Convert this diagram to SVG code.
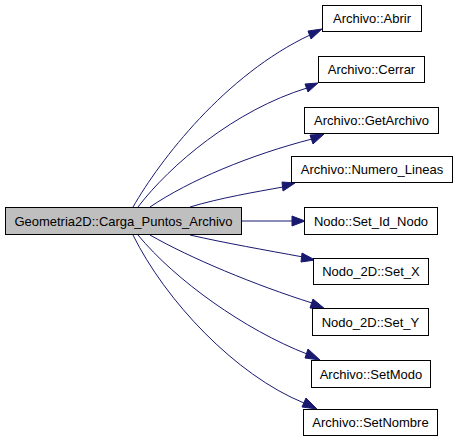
<svg xmlns="http://www.w3.org/2000/svg" width="459" height="443" viewBox="0 0 459 443">
<style>
.n rect{fill:#ffffff;stroke:#000000;stroke-width:1}
.m rect{fill:#bfbfbf;stroke:#000000;stroke-width:1}
text{font-family:"Liberation Sans",Arial,sans-serif;font-size:13px;fill:#000000;text-anchor:middle}
.e path{fill:none;stroke:#191970;stroke-width:1}
.e polygon{fill:#191970;stroke:#191970;stroke-width:1}
</style>
<rect width="459" height="443" fill="#ffffff"/>
<g class="e" id="edges">
<path d="M133,207 C160,160 225,75 310,35"/>
<polygon points="308,31 322,29 311,39"/>
<path d="M138,207 C170,165 235,110 307,88"/>
<polygon points="305,84 318,83 308,92"/>
<path d="M150,207 C190,180 250,155 312,139"/>
<polygon points="310,135 324,134 313,144"/>
<path d="M190,207 C220,198 255,192 283,187"/>
<polygon points="282,182 295,183 283,191"/>
<path d="M242,221 L292,221"/>
<polygon points="292,216 305,221 292,226"/>
<path d="M190,235 C225,243 265,250 303,257"/>
<polygon points="302,253 315,260 301,262"/>
<path d="M150,235 C190,258 255,285 312,303"/>
<polygon points="313,299 325,309 310,308"/>
<path d="M138,235 C175,280 245,330 307,354"/>
<polygon points="308,349 320,360 305,358"/>
<path d="M133,235 C165,300 235,375 304,403"/>
<polygon points="306,398 317,409 302,407"/>
</g>
<g class="m" id="node-main"><rect x="5.5" y="207.5" width="236" height="27"/><text x="123.5" y="226">Geometria2D::Carga_Puntos_Archivo</text></g>
<g class="n" id="node-abrir"><rect x="322.5" y="5.5" width="99" height="26"/><text x="372" y="23">Archivo::Abrir</text></g>
<g class="n" id="node-cerrar"><rect x="318.5" y="56.5" width="106" height="26"/><text x="371.5" y="74">Archivo::Cerrar</text></g>
<g class="n" id="node-getarchivo"><rect x="304.5" y="107.5" width="134" height="26"/><text x="371.5" y="125">Archivo::GetArchivo</text></g>
<g class="n" id="node-numero"><rect x="291.5" y="156.5" width="161" height="26"/><text x="372" y="174">Archivo::Numero_Lineas</text></g>
<g class="n" id="node-setid"><rect x="304.5" y="207.5" width="133" height="27"/><text x="371" y="226">Nodo::Set_Id_Nodo</text></g>
<g class="n" id="node-setx"><rect x="313.5" y="258.5" width="115" height="26"/><text x="371" y="276">Nodo_2D::Set_X</text></g>
<g class="n" id="node-sety"><rect x="312.5" y="308.5" width="116" height="27"/><text x="370.5" y="327">Nodo_2D::Set_Y</text></g>
<g class="n" id="node-setmodo"><rect x="311.5" y="360.5" width="119" height="27"/><text x="371" y="379">Archivo::SetModo</text></g>
<g class="n" id="node-setnombre"><rect x="303.5" y="409.5" width="134" height="26"/><text x="370.5" y="427">Archivo::SetNombre</text></g>
</svg>
